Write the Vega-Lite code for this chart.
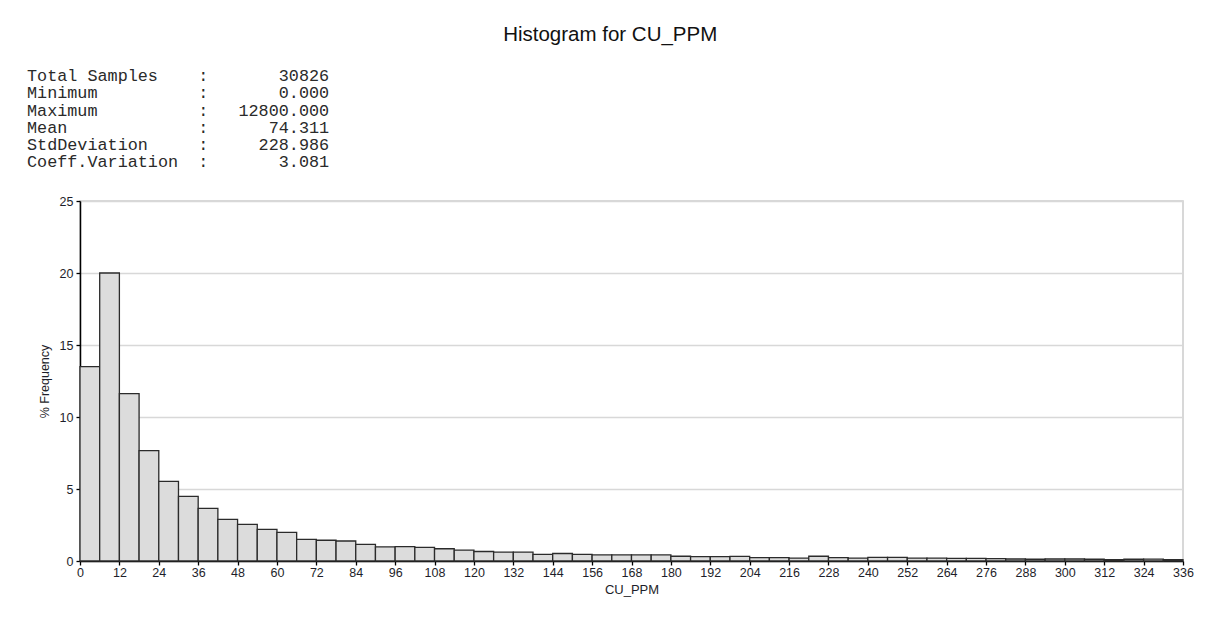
{
  "$schema": "https://vega.github.io/schema/vega-lite/v6.json",
  "padding": {"left": 26, "top": 24, "right": 10, "bottom": 10},
  "background": "white",
  "title": {
    "text": "Histogram for CU_PPM",
    "anchor": "middle",
    "font": "Liberation Sans",
    "fontSize": 20.5,
    "fontWeight": "normal",
    "color": "#111111",
    "offset": 22
  },
  "config": {
    "font": "Liberation Sans",
    "view": {"stroke": "#cccccc", "strokeWidth": 1.5}
  },
  "vconcat": [
    {
      "width": 1103,
      "height": 360,
      "title": {
        "text": [
          "Total Samples\u00a0\u00a0\u00a0\u00a0:\u00a0\u00a0\u00a0\u00a0\u00a0\u00a0\u00a030826",
          "Minimum\u00a0\u00a0\u00a0\u00a0\u00a0\u00a0\u00a0\u00a0\u00a0\u00a0:\u00a0\u00a0\u00a0\u00a0\u00a0\u00a0\u00a00.000",
          "Maximum\u00a0\u00a0\u00a0\u00a0\u00a0\u00a0\u00a0\u00a0\u00a0\u00a0:\u00a0\u00a0\u00a012800.000",
          "Mean\u00a0\u00a0\u00a0\u00a0\u00a0\u00a0\u00a0\u00a0\u00a0\u00a0\u00a0\u00a0\u00a0:\u00a0\u00a0\u00a0\u00a0\u00a0\u00a074.311",
          "StdDeviation\u00a0\u00a0\u00a0\u00a0\u00a0:\u00a0\u00a0\u00a0\u00a0\u00a0228.986",
          "Coeff.Variation\u00a0\u00a0:\u00a0\u00a0\u00a0\u00a0\u00a0\u00a0\u00a03.081"
        ],
        "anchor": "start",
        "frame": "group",
        "dx": -53,
        "font": "Liberation Mono",
        "fontSize": 16.8,
        "fontWeight": "normal",
        "lineHeight": 17.2,
        "color": "#2a2a2a",
        "offset": 24
      },
      "data": {
        "values": [
          {"bin_start": 0, "bin_end": 6, "pct": 13.5},
          {"bin_start": 6, "bin_end": 12, "pct": 20.0},
          {"bin_start": 12, "bin_end": 18, "pct": 11.62},
          {"bin_start": 18, "bin_end": 24, "pct": 7.66},
          {"bin_start": 24, "bin_end": 30, "pct": 5.53},
          {"bin_start": 30, "bin_end": 36, "pct": 4.49},
          {"bin_start": 36, "bin_end": 42, "pct": 3.66},
          {"bin_start": 42, "bin_end": 48, "pct": 2.89},
          {"bin_start": 48, "bin_end": 54, "pct": 2.55},
          {"bin_start": 54, "bin_end": 60, "pct": 2.2},
          {"bin_start": 60, "bin_end": 66, "pct": 1.99},
          {"bin_start": 66, "bin_end": 72, "pct": 1.5},
          {"bin_start": 72, "bin_end": 78, "pct": 1.44},
          {"bin_start": 78, "bin_end": 84, "pct": 1.39},
          {"bin_start": 84, "bin_end": 90, "pct": 1.16},
          {"bin_start": 90, "bin_end": 96, "pct": 0.98},
          {"bin_start": 96, "bin_end": 102, "pct": 1.0},
          {"bin_start": 102, "bin_end": 108, "pct": 0.95},
          {"bin_start": 108, "bin_end": 114, "pct": 0.85},
          {"bin_start": 114, "bin_end": 120, "pct": 0.76},
          {"bin_start": 120, "bin_end": 126, "pct": 0.66},
          {"bin_start": 126, "bin_end": 132, "pct": 0.61},
          {"bin_start": 132, "bin_end": 138, "pct": 0.61},
          {"bin_start": 138, "bin_end": 144, "pct": 0.46},
          {"bin_start": 144, "bin_end": 150, "pct": 0.52},
          {"bin_start": 150, "bin_end": 156, "pct": 0.46},
          {"bin_start": 156, "bin_end": 162, "pct": 0.42},
          {"bin_start": 162, "bin_end": 168, "pct": 0.42},
          {"bin_start": 168, "bin_end": 174, "pct": 0.42},
          {"bin_start": 174, "bin_end": 180, "pct": 0.42},
          {"bin_start": 180, "bin_end": 186, "pct": 0.33},
          {"bin_start": 186, "bin_end": 192, "pct": 0.3},
          {"bin_start": 192, "bin_end": 198, "pct": 0.3},
          {"bin_start": 198, "bin_end": 204, "pct": 0.32},
          {"bin_start": 204, "bin_end": 210, "pct": 0.23},
          {"bin_start": 210, "bin_end": 216, "pct": 0.23},
          {"bin_start": 216, "bin_end": 222, "pct": 0.2},
          {"bin_start": 222, "bin_end": 228, "pct": 0.33},
          {"bin_start": 228, "bin_end": 234, "pct": 0.23},
          {"bin_start": 234, "bin_end": 240, "pct": 0.2},
          {"bin_start": 240, "bin_end": 246, "pct": 0.25},
          {"bin_start": 246, "bin_end": 252, "pct": 0.25},
          {"bin_start": 252, "bin_end": 258, "pct": 0.2},
          {"bin_start": 258, "bin_end": 264, "pct": 0.2},
          {"bin_start": 264, "bin_end": 270, "pct": 0.18},
          {"bin_start": 270, "bin_end": 276, "pct": 0.18},
          {"bin_start": 276, "bin_end": 282, "pct": 0.16},
          {"bin_start": 282, "bin_end": 288, "pct": 0.14},
          {"bin_start": 288, "bin_end": 294, "pct": 0.12},
          {"bin_start": 294, "bin_end": 300, "pct": 0.14},
          {"bin_start": 300, "bin_end": 306, "pct": 0.14},
          {"bin_start": 306, "bin_end": 312, "pct": 0.12},
          {"bin_start": 312, "bin_end": 318, "pct": 0.1},
          {"bin_start": 318, "bin_end": 324, "pct": 0.12},
          {"bin_start": 324, "bin_end": 330, "pct": 0.13},
          {"bin_start": 330, "bin_end": 336, "pct": 0.1}
        ]
      },
      "mark": {"type": "rect", "fill": "#dcdcdc", "stroke": "#2b2b2b", "strokeWidth": 1.3},
      "encoding": {
        "x": {
          "field": "bin_start",
          "type": "quantitative",
          "scale": {"domain": [0, 336], "nice": false, "zero": true},
          "axis": {
            "title": "CU_PPM",
            "values": [0, 12, 24, 36, 48, 60, 72, 84, 96, 108, 120, 132, 144, 156, 168, 180, 192, 204, 216, 228, 240, 252, 264, 276, 288, 300, 312, 324, 336],
            "grid": false,
            "domainColor": "#000000",
            "domainWidth": 1.5,
            "tickColor": "#000000",
            "tickSize": 4,
            "tickWidth": 1.3,
            "labelFontSize": 12.5,
            "labelColor": "#1e1e2a",
            "labelPadding": 1,
            "labelFlush": false,
            "titleFontSize": 13,
            "titleFontWeight": "normal",
            "titleColor": "#1e1e2a",
            "titlePadding": 5
          }
        },
        "x2": {"field": "bin_end"},
        "y": {
          "field": "pct",
          "type": "quantitative",
          "scale": {"domain": [0, 25], "nice": false},
          "axis": {
            "title": "% Frequency",
            "values": [0, 5, 10, 15, 20, 25],
            "grid": true,
            "gridColor": "#d8d8d8",
            "gridWidth": 1.5,
            "domainColor": "#000000",
            "domainWidth": 1.5,
            "tickColor": "#000000",
            "tickSize": 4,
            "tickWidth": 1.3,
            "labelFontSize": 12.5,
            "labelColor": "#1e1e2a",
            "labelPadding": 3,
            "titleFontSize": 12.5,
            "titleFontWeight": "normal",
            "titleColor": "#1e1e2a",
            "titlePadding": 8
          }
        },
        "y2": {"datum": 0}
      }
    }
  ]
}
